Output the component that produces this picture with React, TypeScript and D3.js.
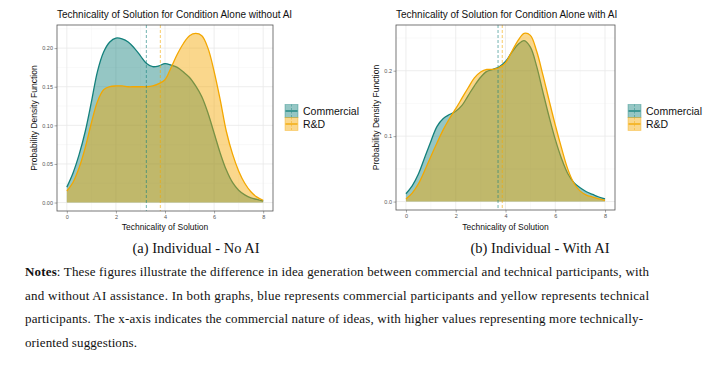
import { useEffect, useRef } from "react";
import * as d3 from "d3";

const xGrid = [
  0, 0.25, 0.5, 0.75, 1, 1.25, 1.5, 1.75, 2, 2.25, 2.5, 2.75, 3, 3.25, 3.5, 3.75, 4,
  4.25, 4.5, 4.75, 5, 5.25, 5.5, 5.75, 6, 6.25, 6.5, 6.75, 7, 7.25, 7.5, 7.75, 8,
];

// (a) Individual - No AI
const noAiCommercial = [
  0.02, 0.038, 0.062, 0.092, 0.13, 0.17, 0.195, 0.208, 0.213, 0.212, 0.208, 0.2, 0.19,
  0.18, 0.176, 0.177, 0.18, 0.178, 0.175, 0.169, 0.162, 0.151, 0.137, 0.116, 0.09,
  0.064, 0.042, 0.026, 0.016, 0.01, 0.006, 0.004, 0.002,
];
const noAiRD = [
  0.015, 0.026, 0.045, 0.071, 0.103, 0.131, 0.146, 0.15, 0.151, 0.151, 0.15, 0.15,
  0.15, 0.15, 0.151, 0.154, 0.159, 0.175, 0.192, 0.206, 0.216, 0.219, 0.216, 0.2,
  0.17, 0.133, 0.092, 0.063, 0.041, 0.025, 0.014, 0.007, 0.003,
];
const noAiMeans = [3.24, 3.81]; // commercial, R&D

// (b) Individual - With AI
const withAiCommercial = [
  0.012, 0.024, 0.042, 0.067, 0.092, 0.115, 0.127, 0.133, 0.138, 0.147, 0.162, 0.177,
  0.19, 0.199, 0.202, 0.206, 0.214, 0.228, 0.24, 0.246, 0.236, 0.207, 0.168, 0.13,
  0.095, 0.066, 0.043, 0.029, 0.021, 0.015, 0.011, 0.007, 0.004,
];
const withAiRD = [
  0.004, 0.013, 0.027, 0.047, 0.069, 0.09, 0.11, 0.127, 0.142, 0.158, 0.174, 0.189,
  0.198, 0.202, 0.202, 0.205, 0.212, 0.229, 0.246, 0.257, 0.254, 0.23, 0.194, 0.155,
  0.117, 0.082, 0.05, 0.028, 0.016, 0.01, 0.007, 0.004, 0.002,
];
const withAiMeans = [3.7, 3.87];

const xTicks = [0, 2, 4, 6, 8];
const xMinor = [1, 3, 5, 7];
const noAiYTicks = [0, 0.05, 0.1, 0.15, 0.2];
const noAiYMinor = [0.025, 0.075, 0.125, 0.175, 0.225];
const withAiYTicks = [0, 0.1, 0.2];
const withAiYMinor = [0.05, 0.15, 0.25];

const groups = ["Commercial", "R&D"];
const colors = ["#13807c", "#f3a700"];

const sans = "'Liberation Sans', Arial, sans-serif";
const serif = "'Liberation Serif', 'Times New Roman', serif";

type PanelProps = {
  title: string;
  series: number[][];
  means: number[];
  yTicks: number[];
  yMinor: number[];
  yFormat: string;
  box: { x0: number; x1: number; y0: number; y1: number };
  yLabelX: number;
  legendX: number;
};

function Panel({ title, series, means, yTicks, yMinor, yFormat, box, yLabelX, legendX }: PanelProps) {
  const ref = useRef<SVGGElement>(null);

  useEffect(() => {
    const g = d3.select(ref.current);
    g.selectAll("*").remove();

    const yMax = d3.max(series.flat()) as number;
    const pad = yMax * 0.05;
    const x = d3.scaleLinear().domain([-0.4, 8.4]).range([box.x0, box.x1]);
    const y = d3.scaleLinear().domain([-pad, yMax + pad]).range([box.y1, box.y0]);

    // grid
    g.selectAll(".minx").data(xMinor).join("line")
      .attr("x1", (d) => x(d)).attr("x2", (d) => x(d))
      .attr("y1", box.y0).attr("y2", box.y1)
      .attr("stroke", "#f3f3f3").attr("stroke-width", 0.5);
    g.selectAll(".miny").data(yMinor).join("line")
      .attr("x1", box.x0).attr("x2", box.x1)
      .attr("y1", (d) => y(d)).attr("y2", (d) => y(d))
      .attr("stroke", "#f3f3f3").attr("stroke-width", 0.5);
    g.selectAll(".majx").data(xTicks).join("line")
      .attr("x1", (d) => x(d)).attr("x2", (d) => x(d))
      .attr("y1", box.y0).attr("y2", box.y1)
      .attr("stroke", "#e8e8e8").attr("stroke-width", 0.8);
    g.selectAll(".majy").data(yTicks).join("line")
      .attr("x1", box.x0).attr("x2", box.x1)
      .attr("y1", (d) => y(d)).attr("y2", (d) => y(d))
      .attr("stroke", "#e8e8e8").attr("stroke-width", 0.8);

    const area = d3.area<number>()
      .x((_, i) => x(xGrid[i]))
      .y0(y(0))
      .y1((d) => y(d))
      .curve(d3.curveCatmullRom.alpha(0.5));
    const line = d3.line<number>()
      .x((_, i) => x(xGrid[i]))
      .y((d) => y(d))
      .curve(d3.curveCatmullRom.alpha(0.5));

    series.forEach((vals, k) => {
      g.append("path").attr("d", area(vals)).attr("fill", colors[k]).attr("fill-opacity", 0.45);
      g.append("path").attr("d", line(vals)).attr("fill", "none")
        .attr("stroke", colors[k]).attr("stroke-width", 1.3);
    });

    // means
    means.forEach((m, k) => {
      g.append("line")
        .attr("x1", x(m)).attr("x2", x(m)).attr("y1", box.y0).attr("y2", box.y1)
        .attr("stroke", colors[k]).attr("stroke-opacity", 0.75)
        .attr("stroke-width", 0.8).attr("stroke-dasharray", "3,2");
    });

    // panel border
    g.append("rect")
      .attr("x", box.x0).attr("y", box.y0)
      .attr("width", box.x1 - box.x0).attr("height", box.y1 - box.y0)
      .attr("fill", "none").attr("stroke", "#555").attr("stroke-width", 0.8);

    // axes
    const xAxis = d3.axisBottom(x).tickValues(xTicks).tickSize(2.5).tickPadding(1.5);
    const yAxis = d3.axisLeft(y).tickValues(yTicks).tickSize(2.5).tickPadding(1.5)
      .tickFormat(d3.format(yFormat));
    const ax = g.append("g").attr("transform", `translate(0,${box.y1})`).call(xAxis);
    const ay = g.append("g").attr("transform", `translate(${box.x0},0)`).call(yAxis);
    [ax, ay].forEach((a) => {
      a.select(".domain").remove();
      a.selectAll("line").attr("stroke", "#555").attr("stroke-width", 0.5);
      a.selectAll("text").attr("fill", "#555").style("font", `5.5px ${sans}`);
    });

    // labels
    g.append("text").attr("x", box.x0).attr("y", 18)
      .style("font", `10px ${sans}`).attr("fill", "#111").text(title);
    g.append("text").attr("x", (box.x0 + box.x1) / 2).attr("y", 230)
      .attr("text-anchor", "middle").style("font", `8.5px ${sans}`).attr("fill", "#111")
      .text("Technicality of Solution");
    g.append("text")
      .attr("transform", `translate(${yLabelX},${(box.y0 + box.y1) / 2}) rotate(-90)`)
      .attr("text-anchor", "middle").style("font", `8.5px ${sans}`).attr("fill", "#111")
      .text("Probability Density Function");

    // legend
    groups.forEach((name, k) => {
      const ky = 104.5 + k * 13;
      const lg = g.append("g");
      lg.append("rect").attr("x", legendX).attr("y", ky).attr("width", 13).attr("height", 13)
        .attr("fill", colors[k]).attr("fill-opacity", 0.45)
        .attr("stroke", colors[k]).attr("stroke-opacity", 0.45).attr("stroke-width", 0.8);
      lg.append("line").attr("x1", legendX + 6.5).attr("x2", legendX + 6.5)
        .attr("y1", ky).attr("y2", ky + 13)
        .attr("stroke", colors[k]).attr("stroke-opacity", 0.6)
        .attr("stroke-width", 0.7).attr("stroke-dasharray", "2,1.5");
      lg.append("line").attr("x1", legendX + 0.5).attr("x2", legendX + 12.5)
        .attr("y1", ky + 6.5).attr("y2", ky + 6.5)
        .attr("stroke", colors[k]).attr("stroke-width", 1.3);
      lg.append("text").attr("x", legendX + 18).attr("y", ky + 10.5)
        .style("font", `10.5px ${sans}`).attr("fill", "#111").text(name);
    });
  }, []);

  return <g ref={ref} />;
}

export default function App() {
  return (
    <svg width={712} height={366} style={{ position: "absolute", left: 0, top: 0, background: "#fff" }}>
      <Panel
        title="Technicality of Solution for Condition Alone without AI"
        series={[noAiCommercial, noAiRD]}
        means={noAiMeans}
        yTicks={noAiYTicks}
        yMinor={noAiYMinor}
        yFormat=".2f"
        box={{ x0: 57, x1: 273, y0: 25, y1: 211 }}
        yLabelX={36.5}
        legendX={285}
      />
      <Panel
        title="Technicality of Solution for Condition Alone with AI"
        series={[withAiCommercial, withAiRD]}
        means={withAiMeans}
        yTicks={withAiYTicks}
        yMinor={withAiYMinor}
        yFormat=".1f"
        box={{ x0: 396, x1: 615, y0: 25, y1: 210 }}
        yLabelX={379}
        legendX={628}
      />
      <g style={{ font: `14px ${serif}` }} fill="#111">
        <text x={196} y={253} textAnchor="middle" textLength={127} lengthAdjust="spacingAndGlyphs">
          (a) Individual - No AI
        </text>
        <text x={540} y={253} textAnchor="middle" textLength={139} lengthAdjust="spacingAndGlyphs">
          (b) Individual - With AI
        </text>
      </g>
      <g style={{ font: `13px ${serif}` }} fill="#111">
        <text x={25} y={276} textLength={624} lengthAdjust="spacing">
          <tspan fontWeight="bold">Notes</tspan>: These figures illustrate the difference in idea generation between commercial and technical participants, with
        </text>
        <text x={25} y={299.5} textLength={624} lengthAdjust="spacing">
          and without AI assistance.  In both graphs, blue represents commercial participants and yellow represents technical
        </text>
        <text x={25} y={323} textLength={618} lengthAdjust="spacing">
          participants.  The x-axis indicates the commercial nature of ideas, with higher values representing more technically-
        </text>
        <text x={25} y={346.5} textLength={112} lengthAdjust="spacing">
          oriented suggestions.
        </text>
      </g>
    </svg>
  );
}
